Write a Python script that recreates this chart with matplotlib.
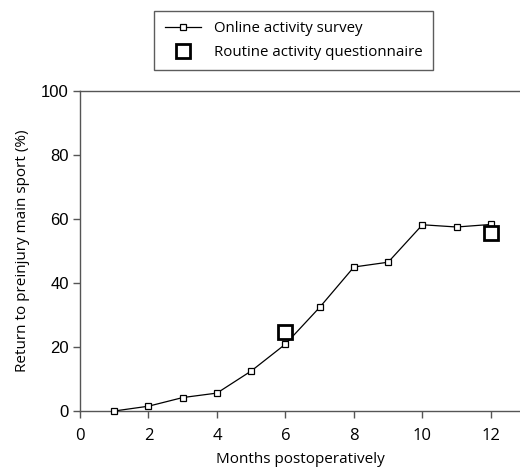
import matplotlib
matplotlib.use('Agg')
import matplotlib.pyplot as plt

# Data
months = [1, 2, 3, 4, 5, 6, 7, 8, 9, 10, 11, 12]
online_survey = [0, 1.5, 4.2, 5.6, 12.5, 20.9, 32.4, 45.0, 46.5, 58.2, 57.5, 58.3]
quest_months = [6, 12]
quest_values = [24.6, 55.6]
x_ticks = [0, 2, 4, 6, 8, 10, 12]
y_ticks = [0, 20, 40, 60, 80, 100]

fig = plt.figure(figsize=(5.2, 4.72), dpi=100)
ax = fig.add_axes([80 / 520, 1 - 411 / 472, 1 - 80 / 520, 320 / 472])

ax.plot(months, online_survey, color='black', linewidth=0.9, marker='s',
        markersize=5, markerfacecolor='white', markeredgecolor='black',
        markeredgewidth=0.9, label='Online activity survey', clip_on=False, zorder=3)
ax.plot(quest_months, quest_values, linestyle='none', marker='s', markersize=10,
        markerfacecolor='white', markeredgecolor='black', markeredgewidth=2,
        label='Routine activity questionnaire', clip_on=False, zorder=4)

ax.set_xlim(0, 12.85)
ax.set_ylim(0, 100)
ax.set_xticks(x_ticks)
ax.set_yticks(y_ticks)

for side in ['left', 'bottom', 'top']:
    ax.spines[side].set_color('#555555')
    ax.spines[side].set_linewidth(1.0)
ax.spines['right'].set_visible(False)

ax.tick_params(axis='both', direction='out', length=5, color='#555555', width=1)
ax.tick_params(axis='x', labelsize=12, pad=7)
ax.tick_params(axis='y', labelsize=12, pad=3)
for lbl in ax.get_xticklabels():
    lbl.set_family('Open Sans')
for lbl in ax.get_yticklabels():
    lbl.set_family('Liberation Sans')

ax.set_xlabel('Months postoperatively', fontsize=11, family='Open Sans', labelpad=6)
ax.set_ylabel('Return to preinjury main sport (%)', fontsize=11, family='Open Sans', labelpad=8)

leg = fig.legend(loc='upper left', bbox_to_anchor=(154 / 520, 1 - 11 / 472),
                 borderaxespad=0, frameon=True, fancybox=False, edgecolor='#333333',
                 prop={'family': 'Open Sans', 'size': 10.8}, handlelength=2.4,
                 borderpad=0.7, labelspacing=0.55, handletextpad=0.9)
leg.get_frame().set_linewidth(1.0)

fig.savefig('out.png', dpi=100)
